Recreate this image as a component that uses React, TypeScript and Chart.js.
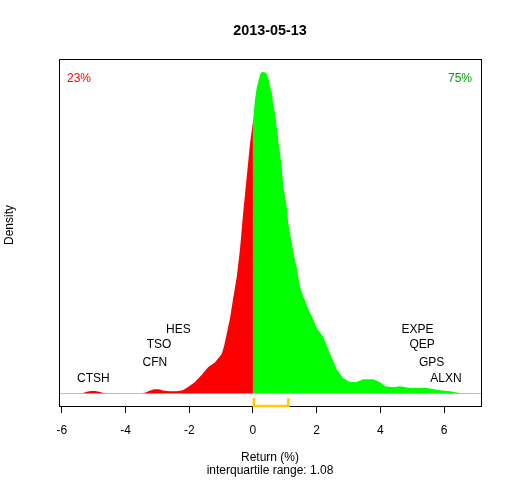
import React, { useEffect, useRef } from "react";
import { Chart, registerables } from "chart.js";

Chart.register(...registerables);

const FONT = "'Liberation Sans', Arial, sans-serif";

const chartTitle = "2013-05-13";
const xAxisTitle = "Return (%)";
const iqrText = "interquartile range: 1.08";
const yAxisTitle = "Density";

// density curve, negative part (red)
const redX = [
  -5.6, -5.34, -5.25, -5.1, -4.95, -4.8, -4.7, -4.5, -3.5, -3.39, -3.25, -3.1, -2.95, -2.8, -2.6, -2.4,
  -2.2, -2.05, -1.83, -1.62, -1.41, -1.19, -0.98, -0.9, -0.82, -0.72, -0.62, -0.51, -0.41, -0.3, -0.2,
  -0.09, 0,
];
const redY = [
  0, 0, 0.002, 0.0035, 0.0035, 0.002, 0.0003, 0, 0, 0.0008, 0.004, 0.0068, 0.0068, 0.004, 0.0034, 0.0034,
  0.005, 0.0103, 0.0188, 0.0308, 0.0445, 0.0531, 0.067, 0.082, 0.103, 0.128, 0.163, 0.199, 0.245, 0.313,
  0.368, 0.428, 0.465,
];

// density curve, positive part (green)
const greenX = [
  0, 0.063, 0.116, 0.167, 0.22, 0.27, 0.324, 0.408, 0.481, 0.534, 0.587, 0.638, 0.691, 0.745, 0.795, 0.848,
  0.902, 0.952, 1.006, 1.059, 1.109, 1.162, 1.216, 1.266, 1.32, 1.373, 1.423, 1.477, 1.53, 1.58, 1.634,
  1.687, 1.79, 1.894, 2.0, 2.2, 2.42, 2.63, 2.83, 3.04, 3.25, 3.46, 3.77, 3.98, 4.15, 4.41, 4.62, 4.93,
  5.45, 5.87, 6.19, 6.35, 6.5, 6.67,
];
const greenY = [
  0.465, 0.502, 0.522, 0.533, 0.545, 0.549, 0.55, 0.548, 0.54, 0.524, 0.516, 0.493, 0.48, 0.456, 0.433,
  0.413, 0.387, 0.353, 0.336, 0.319, 0.291, 0.274, 0.257, 0.242, 0.228, 0.216, 0.199, 0.182, 0.173, 0.165,
  0.159, 0.151, 0.138, 0.126, 0.112, 0.097, 0.068, 0.041, 0.026, 0.019, 0.019, 0.024, 0.024, 0.019, 0.012,
  0.01, 0.012, 0.0086, 0.0086, 0.005, 0.0034, 0.0017, 0.0003, 0,
];

const xTicks = [-6, -4, -2, 0, 2, 4, 6];

const leftNames = ["HES", "TSO", "CFN", "CTSH"];
const leftReturns = [-2.34, -2.95, -3.08, -5.01];
const rightNames = ["EXPE", "QEP", "GPS", "ALXN"];
const rightReturns = [5.17, 5.31, 5.61, 6.06];
const labelLevels = [0.111, 0.084, 0.053, 0.026];

const pctDown = "23%";
const pctUp = "75%";
const iqrLow = 0.03;
const iqrHigh = 1.11;

const peak = Math.max(...redY, ...greenY);

const overlay = {
  id: "overlay",
  beforeDatasetsDraw(chart: any) {
    const { ctx, chartArea: a, scales } = chart;
    const y0 = Math.round(scales.y.getPixelForValue(0)) + 0.5;
    ctx.save();
    ctx.strokeStyle = "#BEBEBE";
    ctx.lineWidth = 1;
    ctx.beginPath();
    ctx.moveTo(a.left, y0);
    ctx.lineTo(a.right, y0);
    ctx.stroke();
    ctx.restore();
  },
  afterDraw(chart: any) {
    const { ctx, chartArea: a, scales } = chart;
    const xs = scales.x;
    const ys = scales.y;
    ctx.save();
    // frame
    ctx.strokeStyle = "#000";
    ctx.lineWidth = 1;
    ctx.strokeRect(Math.round(a.left) + 0.5, Math.round(a.top) + 0.5, Math.round(a.right - a.left), Math.round(a.bottom - a.top));

    // stock labels
    ctx.font = `12px ${FONT}`;
    ctx.fillStyle = "#000";
    ctx.textAlign = "center";
    ctx.textBaseline = "alphabetic";
    leftNames.forEach((n, i) => {
      ctx.fillText(n, xs.getPixelForValue(leftReturns[i]), ys.getPixelForValue(labelLevels[i]) + 4.3);
    });
    rightNames.forEach((n, i) => {
      ctx.fillText(n, xs.getPixelForValue(rightReturns[i]), ys.getPixelForValue(labelLevels[i]) + 4.3);
    });

    // percentages
    ctx.fillStyle = "#FF0000";
    ctx.textAlign = "left";
    ctx.fillText(pctDown, a.left + 8, a.top + 23);
    ctx.fillStyle = "#00A000";
    ctx.textAlign = "right";
    ctx.fillText(pctUp, a.right - 9, a.top + 23);

    // IQR bracket
    const bx1 = xs.getPixelForValue(iqrLow);
    const bx2 = xs.getPixelForValue(iqrHigh);
    const bTop = a.bottom - 8;
    const bBot = a.bottom;
    ctx.strokeStyle = "#FFCC00";
    ctx.lineWidth = 2.5;
    ctx.lineJoin = "miter";
    ctx.beginPath();
    ctx.moveTo(bx1, bTop);
    ctx.lineTo(bx1, bBot);
    ctx.lineTo(bx2, bBot);
    ctx.lineTo(bx2, bTop);
    ctx.stroke();

    // y axis title
    ctx.fillStyle = "#000";
    ctx.font = `12px ${FONT}`;
    ctx.translate(12.7, 225);
    ctx.rotate(-Math.PI / 2);
    ctx.textAlign = "center";
    ctx.textBaseline = "alphabetic";
    ctx.fillText(yAxisTitle, 0, 0);
    ctx.restore();
  },
};

export default function App() {
  const ref = useRef<HTMLCanvasElement | null>(null);
  useEffect(() => {
    if (!ref.current) return;
    const chart = new Chart(ref.current, {
      type: "line",
      data: {
        datasets: [
          {
            data: redX.map((x, i) => ({ x, y: redY[i] })),
            fill: "origin",
            backgroundColor: "#FF0000",
            borderColor: "#FF0000",
            borderWidth: 0,
            pointRadius: 0,
            tension: 0,
          },
          {
            data: greenX.map((x, i) => ({ x, y: greenY[i] })),
            fill: "origin",
            backgroundColor: "#00FF00",
            borderColor: "#00FF00",
            borderWidth: 0,
            pointRadius: 0,
            tension: 0,
          },
        ],
      },
      options: {
        responsive: false,
        animation: false,
        layout: { padding: { left: 59, right: 31, top: 0, bottom: 0 } },
        plugins: {
          legend: { display: false },
          tooltip: { enabled: false },
          title: {
            display: true,
            text: chartTitle,
            color: "#000",
            font: { family: FONT, size: 14.4, weight: "bold", lineHeight: 1.2 },
            padding: { top: 22.36, bottom: 19.36 },
          },
        },
        scales: {
          x: {
            type: "linear",
            min: -6.09,
            max: 7.16,
            afterBuildTicks: (s: any) => {
              s.ticks = xTicks.map((v) => ({ value: v }));
            },
            afterFit: (s: any) => {
              s.height = 74;
            },
            ticks: {
              color: "#000",
              font: { family: FONT, size: 12 },
              padding: 10,
              maxRotation: 0,
              autoSkip: false,
              includeBounds: false,
              callback: (v: any) => String(v),
            },
            grid: {
              drawOnChartArea: false,
              drawTicks: true,
              tickLength: 7,
              color: "#000",
              lineWidth: 1,
            },
            border: { display: false },
            title: {
              display: true,
              text: [xAxisTitle, iqrText],
              color: "#000",
              font: { family: FONT, size: 12, lineHeight: 13 / 12 },
              padding: { top: 0, bottom: 2.5 },
            },
          },
          y: {
            type: "linear",
            display: false,
            min: -0.04 * peak,
            max: 1.04 * peak,
          },
        },
      },
      plugins: [overlay],
    } as any);
    return () => chart.destroy();
  }, []);
  return (
    <div style={{ position: "absolute", left: 0, top: 0, width: 512, height: 480, background: "#fff" }}>
      <canvas ref={ref} width={512} height={480} style={{ display: "block" }} />
    </div>
  );
}
